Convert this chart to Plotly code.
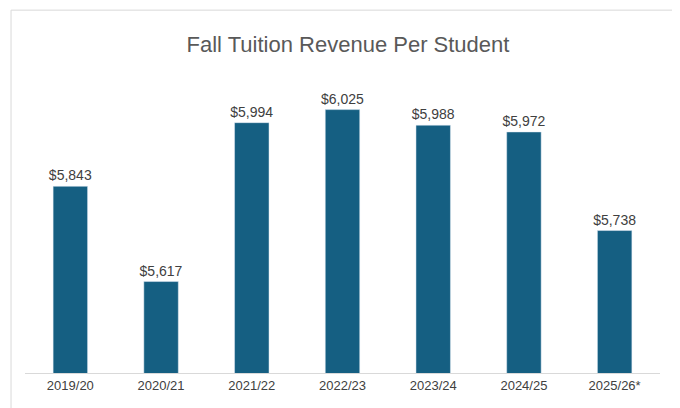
import plotly.graph_objects as go

years = ["2019/20", "2020/21", "2021/22", "2022/23", "2023/24", "2024/25", "2025/26*"]
revenue = [5843, 5617, 5994, 6025, 5988, 5972, 5738]

fig = go.Figure()
fig.add_bar(
    x=years,
    y=revenue,
    marker_color="#155F82",
    width=0.38,
    text=[f"${v:,}" for v in revenue],
    textposition="outside",
    textfont=dict(size=14, color="#404040"),
    cliponaxis=False,
)

fig.update_yaxes(range=[5400, 6100], visible=False)
fig.update_xaxes(
    showline=True, linecolor="#D9D9D9", ticks="", automargin=False,
    tickfont=dict(size=13, color="#404040"),
)
fig.update_layout(
    title=dict(text="Fall Tuition Revenue Per Student", x=0.5, y=0.93,
               font=dict(size=22, color="#595959")),
    font=dict(family="Liberation Sans"),
    width=680, height=408,
    margin=dict(l=17, r=28, t=70, b=43, autoexpand=False),
    uniformtext=dict(minsize=14, mode="show"),
    plot_bgcolor="white", paper_bgcolor="white",
    showlegend=False,
    shapes=[dict(type="rect", xref="paper", yref="paper", x0=-0.022, x1=1.04,
                 y0=-0.14, y1=1.23, line=dict(color="#D9D9D9", width=1))],
)

fig.write_html("out.html")
